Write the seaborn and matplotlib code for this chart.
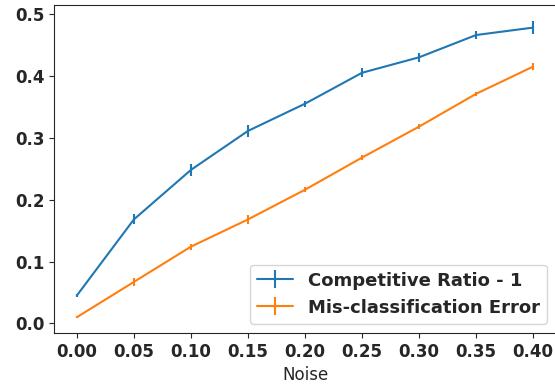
import numpy as np
import matplotlib
matplotlib.use("Agg")
import matplotlib.pyplot as plt
import seaborn as sns

# Data
noise = [0.00, 0.05, 0.10, 0.15, 0.20, 0.25, 0.30, 0.35, 0.40]
cr_minus_1 = [0.045, 0.168, 0.248, 0.311, 0.355, 0.405, 0.430, 0.466, 0.478]
cr_err = [0.002, 0.008, 0.010, 0.009, 0.005, 0.007, 0.007, 0.007, 0.011]
mis_error = [0.010, 0.067, 0.124, 0.168, 0.216, 0.268, 0.318, 0.371, 0.415]
mis_err = [0.002, 0.006, 0.005, 0.007, 0.004, 0.004, 0.004, 0.003, 0.005]

sns.set_style("ticks")
palette = sns.color_palette("tab10")

fig = plt.figure(figsize=(5.55, 3.87), dpi=100)
ax = fig.add_axes([54 / 555, 1 - 333 / 387, 502 / 555, 328 / 387])

ax.errorbar(noise, cr_minus_1, yerr=cr_err, color=palette[0],
            label="Competitive Ratio - 1", linewidth=1.5)
ax.errorbar(noise, mis_error, yerr=mis_err, color=palette[1],
            label="Mis-classification Error", linewidth=1.5)

ax.set_xlim(-0.02, 0.42)
ax.set_ylim(-0.0155, 0.5145)
ax.set_xticks(noise)
ax.set_xticklabels([f"{v:.2f}" for v in noise])
ax.set_yticks([0.0, 0.1, 0.2, 0.3, 0.4, 0.5])
ax.set_yticklabels([f"{v:.1f}" for v in [0.0, 0.1, 0.2, 0.3, 0.4, 0.5]])
ax.tick_params(labelsize=12)
for lbl in ax.get_xticklabels() + ax.get_yticklabels():
    lbl.set_fontweight("bold")

ax.set_xlabel("Noise", fontsize=12)

leg = ax.legend(loc="lower right", prop={"weight": "bold", "size": 13})

fig.savefig("out.png", dpi=100, facecolor="white")
